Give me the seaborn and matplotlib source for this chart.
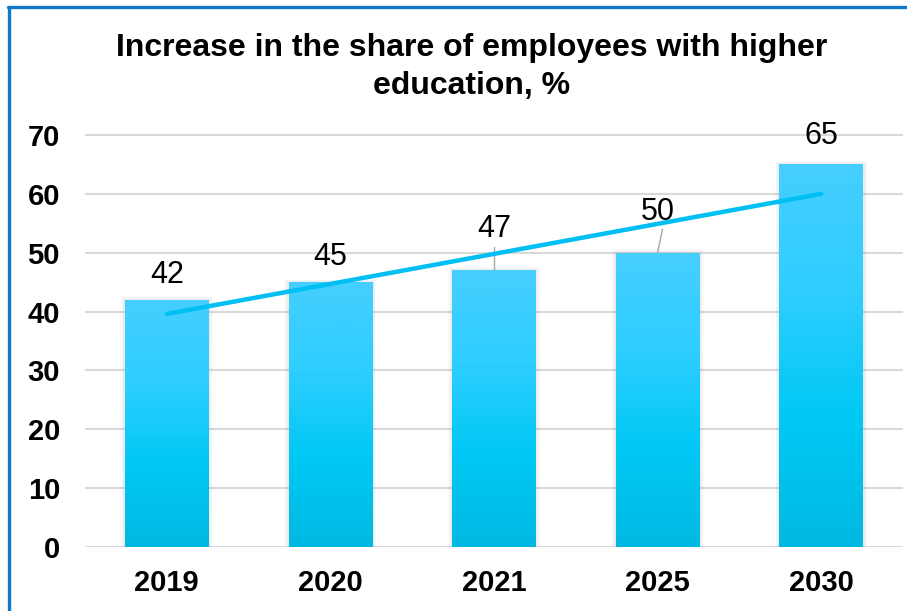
import numpy as np
import pandas as pd
import matplotlib
matplotlib.use("Agg")
import matplotlib.pyplot as plt
import seaborn as sns
from matplotlib.colors import LinearSegmentedColormap
from matplotlib.lines import Line2D

years = ["2019", "2020", "2021", "2025", "2030"]
shares = [42, 45, 47, 50, 65]
title = "Increase in the share of employees with higher\neducation, %"

sns.set_theme(style="white")
plt.rcParams["font.family"] = ["Liberation Sans", "DejaVu Sans"]
plt.rcParams["text.color"] = "black"
plt.rcParams["xtick.color"] = "black"
plt.rcParams["ytick.color"] = "black"

fig = plt.figure(figsize=(9.07, 6.11), dpi=100)
ax = fig.add_axes([85 / 907, 1 - 547 / 611, 818 / 907, (547 - 135) / 611 * 72 / 70])

df = pd.DataFrame({"year": years, "share": shares})
sns.barplot(data=df, x="year", y="share", ax=ax, width=0.51,
            color="#2ECBFF", saturation=1, edgecolor="none", zorder=2)

# vertical gradient fill with a soft drop shadow on each bar
grad = LinearSegmentedColormap.from_list(
    "bar", ["#00B9E2", "#00C8F5", "#2ECEFF", "#46CEFF"])
patches = list(ax.patches)
for p in patches:
    x0, w, h = p.get_x(), p.get_width(), p.get_height()
    for k, a in enumerate([0.08, 0.05, 0.03]):
        d = 0.010 + k * 0.010
        ax.add_patch(plt.Rectangle((x0 - d, 0), w + 2 * d, h + 0.2 + k * 0.2,
                                   facecolor="#808080", alpha=a,
                                   edgecolor="none", zorder=1))
    img = ax.imshow(np.linspace(0, 1, 256).reshape(-1, 1), cmap=grad,
                    origin="lower", aspect="auto",
                    extent=(x0, x0 + w, 0, h), zorder=2.5)
    img.set_clip_path(p)

# linear trend line
xs = np.arange(len(shares))
slope, icpt = np.polyfit(xs, shares, 1)
ax.plot([xs[0], xs[-1]], [icpt, icpt + slope * xs[-1]], color="#00BFF3",
        lw=3.2, solid_capstyle="round", zorder=4)

# value labels (two of them sit higher, joined by leader lines)
label_y = {0: 46.2, 1: 49.3, 2: 54.0, 3: 57.0, 4: 69.8}
for i, v in enumerate(shares):
    ly = label_y[i]
    ax.text(i, ly, str(v), ha="center", va="center", fontsize=22,
            color="black", zorder=5)
    if i in (2, 3):
        ax.plot([i + (0.03 if i == 3 else 0), i], [ly - 3.0, v],
                color="#A6A6A6", lw=1, zorder=3)

ax.set_xlim(-0.5, 4.5)
ax.set_ylim(0, 72)
ax.set_yticks(range(0, 71, 10))
ax.yaxis.grid(True, color="#D9D9D9", lw=1.5, zorder=0)
ax.set_axisbelow(True)
for s in ax.spines.values():
    s.set_visible(False)
ax.axhline(0, color="#D9D9D9", lw=1.8, zorder=1.5)
ax.set_xlabel("")
ax.set_ylabel("")
ax.tick_params(axis="both", length=0, labelsize=21)
ax.tick_params(axis="x", pad=16)
ax.tick_params(axis="y", pad=18)
for t in ax.get_xticklabels() + ax.get_yticklabels():
    t.set_fontweight("bold")

fig.text(472 / 907, 1 - 67 / 611, title, ha="center", va="center",
         fontsize=23, fontweight="bold", linespacing=1.38)

# blue frame along the left and top edges
fig.add_artist(Line2D([9 / 907, 9 / 907], [0, 1 - 7 / 611],
                      transform=fig.transFigure, color="#0F78C8", lw=2.4))
fig.add_artist(Line2D([8 / 907, 1], [1 - 7 / 611, 1 - 7 / 611],
                      transform=fig.transFigure, color="#0F78C8", lw=2.4))

fig.savefig("out.png", dpi=100)
